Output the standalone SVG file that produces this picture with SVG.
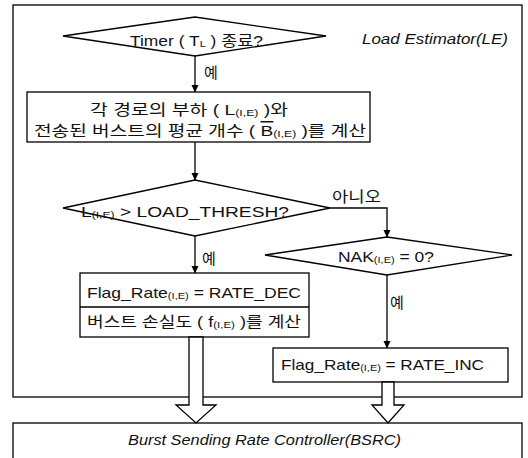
<svg xmlns="http://www.w3.org/2000/svg" width="528" height="458" viewBox="0 0 528 458">
<defs>
<marker id="ah" markerWidth="8" markerHeight="8" refX="7" refY="4" orient="auto" markerUnits="userSpaceOnUse">
<path d="M0,0.5 L7.5,4 L0,7.5 Z" fill="#000"/>
</marker>
</defs>
<style>
.s{fill:#fff;stroke:#000;stroke-width:1.3}
.c{fill:none;stroke:#000;stroke-width:1.3;marker-end:url(#ah)}
.t{font-family:"Liberation Sans","Noto Sans CJK KR",sans-serif;font-size:15px;fill:#111}
.k{font-family:"Noto Sans CJK KR","Liberation Sans",sans-serif;font-size:15px;fill:#111}
.i{font-family:"Liberation Sans",Arial,sans-serif;font-size:15px;font-style:italic;fill:#111}
.sub{font-size:9.5px}
.ov{text-decoration:overline}
</style>
<rect width="528" height="458" fill="#fff"/>
<g id="le">
<rect class="s" x="13" y="5" width="509" height="392"/>
<text class="i" x="362" y="44" textLength="146" lengthAdjust="spacingAndGlyphs">Load Estimator(LE)</text>
</g>
<g id="bsrc">
<rect class="s" x="13" y="423" width="509" height="40"/>
<text class="i" x="128" y="445" textLength="273" lengthAdjust="spacingAndGlyphs">Burst Sending Rate Controller(BSRC)</text>
</g>
<g id="timer">
<polygon class="s" points="63,36 195,17 326,36 195,56"/>
<text class="t" x="130" y="46" textLength="133" lengthAdjust="spacingAndGlyphs">Timer ( T<tspan class="sub" dy="1">L</tspan><tspan dy="-1"> ) 종료?</tspan></text>
</g>
<g id="calc">
<rect class="s" x="27" y="92" width="343" height="50"/>
<text class="t" x="90" y="115" textLength="198" lengthAdjust="spacingAndGlyphs">각 경로의 부하 ( L<tspan class="sub" dy="1">(I,E)</tspan><tspan dy="-1"> )와</tspan></text>
<text class="t" x="34" y="136" textLength="332" lengthAdjust="spacingAndGlyphs">전송된 버스트의 평균 개수 ( <tspan class="ov">B</tspan><tspan class="sub" dy="1">(I,E)</tspan><tspan dy="-1"> )를 계산</tspan></text>
</g>
<g id="load">
<polygon class="s" points="63,208 195,180 330,208 195,236"/>
<text class="t" x="81" y="217" textLength="208" lengthAdjust="spacingAndGlyphs">L<tspan class="sub" dy="1">(I,E)</tspan><tspan dy="-1"> &gt; LOAD_THRESH?</tspan></text>
</g>
<g id="nak">
<polygon class="s" points="265,255 387,237 512,255 387,275"/>
<text class="t" x="338" y="262" textLength="96" lengthAdjust="spacingAndGlyphs">NAK<tspan class="sub" dy="1">(I,E)</tspan><tspan dy="-1"> = 0?</tspan></text>
</g>
<g id="dec">
<rect class="s" x="80" y="273" width="229" height="64"/>
<line x1="80" y1="307" x2="309" y2="307" stroke="#000" stroke-width="1.3"/>
<text class="t" x="87" y="298" textLength="214" lengthAdjust="spacingAndGlyphs">Flag_Rate<tspan class="sub" dy="1">(I,E)</tspan><tspan dy="-1"> = RATE_DEC</tspan></text>
<text class="t" x="87" y="327" textLength="214" lengthAdjust="spacingAndGlyphs">버스트 손실도 ( f<tspan class="sub" dy="1">(I,E)</tspan><tspan dy="-1"> )를 계산</tspan></text>
</g>
<g id="inc">
<rect class="s" x="273" y="348" width="235" height="34"/>
<text class="t" x="281" y="370" textLength="203" lengthAdjust="spacingAndGlyphs">Flag_Rate<tspan class="sub" dy="1">(I,E)</tspan><tspan dy="-1"> = RATE_INC</tspan></text>
</g>
<g id="connectors">
<line class="c" x1="195" y1="56" x2="195" y2="92"/>
<text class="k" x="204" y="78">예</text>
<line class="c" x1="195" y1="142" x2="195" y2="180"/>
<polyline class="c" points="330,208 387,208 387,237"/>
<text class="k" x="332" y="202" textLength="49" lengthAdjust="spacingAndGlyphs">아니오</text>
<line class="c" x1="195" y1="236" x2="195" y2="273"/>
<text class="k" x="202" y="264">예</text>
<line class="c" x1="387" y1="275" x2="387" y2="348"/>
<text class="k" x="390" y="308">예</text>
<polygon class="s" points="189,337 189,405 176,405 196,423 216,405 203,405 203,337"/>
<polygon class="s" points="382,382 382,405 372,405 388,423 404,405 394,405 394,382"/>
</g>
</svg>
